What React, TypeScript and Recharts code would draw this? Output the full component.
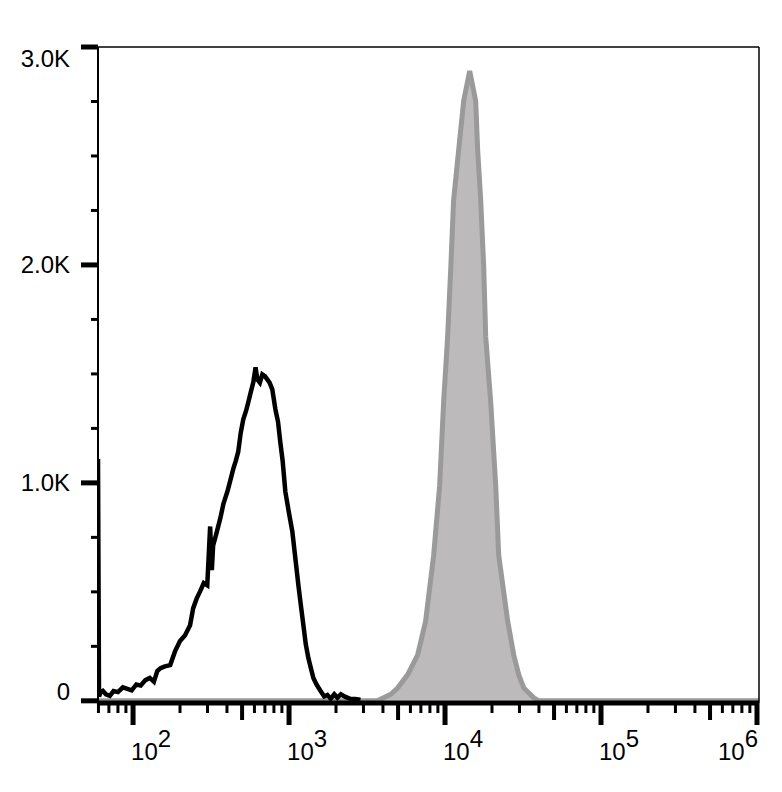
import { ComposedChart, Area, Line, XAxis, YAxis, ReferenceLine } from "recharts";

// unstained / control histogram (black outline)
const controlX = [
  59.6, 60.5, 62, 64, 67, 71, 75, 80, 86, 92, 98, 105, 112, 120, 128, 136, 143, 150, 160, 173,
  186, 200, 215, 232, 243, 256, 269, 284, 299, 312, 320, 326, 340, 362, 380, 402, 420, 439, 455,
  472, 490, 509, 530, 548, 570, 590, 610, 626, 650, 674, 700, 725, 750, 781, 817, 850, 879, 910,
  947, 1000, 1050, 1098, 1148, 1190, 1236, 1280, 1330, 1380, 1432, 1500, 1589, 1680, 1762, 1850,
  1950, 2043, 2150, 2299, 2450, 2650, 2871,
];
const controlCount = [
  1110, 20, 40, 46, 30, 23, 45, 40, 62, 55, 48, 75, 70, 95, 105, 88, 137, 150, 158, 164,
  228, 274, 300, 347, 425, 470, 502, 540, 530, 800, 600, 712, 760, 836, 905, 959, 1010, 1064, 1100,
  1142, 1230, 1292, 1330, 1370, 1420, 1461, 1530, 1475, 1460, 1498, 1490, 1475, 1460, 1429, 1338,
  1280, 1187, 1100, 959, 860, 776, 653, 530, 440, 347, 260, 196, 150, 105, 75, 46, 20, 27, 10,
  30, 14, 30, 18, 10, 8, 5,
];

// stained sample (grey filled)
const stainedX = [
  59.6, 1000, 3000, 3690, 4035, 4500, 4961, 5750, 6670, 7507, 8451, 9232, 9796, 10392, 10870,
  11350, 12220, 13170, 14390, 15720, 16200, 16930, 17700, 18230, 19630, 21140, 22090, 25230,
  27580, 29700, 31980, 37070, 39900, 100000, 1030000,
];
const stainedCount = [
  0, 0, 0, 0, 14, 30, 59, 119, 210, 365, 667, 986, 1370, 1671, 1977,
  2297, 2525, 2753, 2890, 2753, 2525, 2297, 1991, 1671, 1370, 986, 667, 365,
  210, 119, 59, 14, 0, 0, 0,
];

const X_MIN = 59.6;
const X_MAX = 1030000;

const decadeStarts = [10, 100, 1000, 10000, 100000];
const multipliers = [1, 2, 3, 4, 5, 6, 7, 8, 9];
const yTicks = [0, 250, 500, 750, 1000, 1250, 1500, 1750, 2000, 2250, 2500, 2750, 3000];
const yLabels: Record<number, string> = { 0: "0", 1000: "1.0K", 2000: "2.0K", 3000: "3.0K" };

const tickKind = new Map<number, string>();
const xTicks: number[] = [];
decadeStarts.forEach((d) => {
  multipliers.forEach((m) => {
    const v = d * m;
    if (v >= X_MIN) {
      xTicks.push(v);
      tickKind.set(v, m === 1 ? "major" : m === 5 ? "mid" : "minor");
    }
  });
});
xTicks.push(1000000);
tickKind.set(1000000, "major");

const ctrlMap = new Map(controlX.map((x, i) => [x, controlCount[i]]));
const stMap = new Map(stainedX.map((x, i) => [x, stainedCount[i]]));
const allX = Array.from(new Set([...controlX, ...stainedX])).sort((a, b) => a - b);
const data = allX.map((x) => ({
  x,
  control: ctrlMap.has(x) ? ctrlMap.get(x) : null,
  stained: stMap.has(x) ? stMap.get(x) : null,
}));

const FONT = "'Liberation Sans', Arial, sans-serif";

function XTick(props: any) {
  const { x, y, payload } = props;
  const v = payload.value;
  const kind = tickKind.get(v) || "minor";
  const len = kind === "major" ? 22 : kind === "mid" ? 17 : 10;
  const w = kind === "major" ? 5 : kind === "mid" ? 4 : 3;
  const exp = Math.round(Math.log10(v));
  const last = v === 1000000;
  return (
    <g>
      <line x1={x} x2={x} y1={y} y2={y + len} stroke="#000" strokeWidth={w} />
      {kind === "major" && (
        <text
          x={last ? x + 1 : x - 2}
          y={y + 57}
          textAnchor={last ? "end" : "start"}
          fontFamily={FONT}
          fontSize={24}
          fill="#000"
        >
          <tspan>10</tspan>
          <tspan dy={-13}>{exp}</tspan>
        </text>
      )}
    </g>
  );
}

function YTick(props: any) {
  const { x, y, payload } = props;
  const v = payload.value;
  const major = v % 1000 === 0;
  const dy = v === 3000 ? 20 : v === 0 ? -1 : 8;
  return (
    <g>
      <line x1={x - (major ? 17 : 7)} x2={x} y1={y} y2={y} stroke="#000" strokeWidth={major ? 5 : 3} />
      {major && (
        <text x={70} y={y + dy} textAnchor="end" fontFamily={FONT} fontSize={24} fill="#000">
          {yLabels[v]}
        </text>
      )}
    </g>
  );
}

export default function App() {
  return (
    <div style={{ position: "absolute", left: 0, top: 0, background: "#fff" }}>
      <ComposedChart width={782} height={792} data={data} margin={{ top: 47, right: 23, bottom: 0, left: 0 }}>
        <XAxis
          dataKey="x"
          type="number"
          scale="log"
          domain={[X_MIN, X_MAX]}
          allowDataOverflow
          ticks={xTicks}
          interval={0}
          height={89}
          tickSize={0}
          tickMargin={0}
          tickLine={false}
          tick={<XTick />}
          axisLine={{ stroke: "#000", strokeWidth: 5 }}
        />
        <YAxis
          type="number"
          domain={[-10, 3000]}
          allowDataOverflow
          ticks={yTicks}
          interval={0}
          width={98}
          tickSize={0}
          tickMargin={0}
          tickLine={false}
          tick={<YTick />}
          axisLine={{ stroke: "#000", strokeWidth: 2 }}
        />
        <ReferenceLine y={3000} stroke="#000" strokeWidth={1.5} />
        <ReferenceLine x={X_MAX} stroke="#000" strokeWidth={1.5} />
        <Area
          type="linear"
          dataKey="stained"
          stroke="#9a9a9a"
          strokeWidth={5}
          fill="#bcbabb"
          fillOpacity={1}
          connectNulls
          isAnimationActive={false}
        />
        <Line
          type="linear"
          dataKey="control"
          stroke="#000"
          strokeWidth={4.5}
          dot={false}
          connectNulls
          isAnimationActive={false}
        />
      </ComposedChart>
    </div>
  );
}
